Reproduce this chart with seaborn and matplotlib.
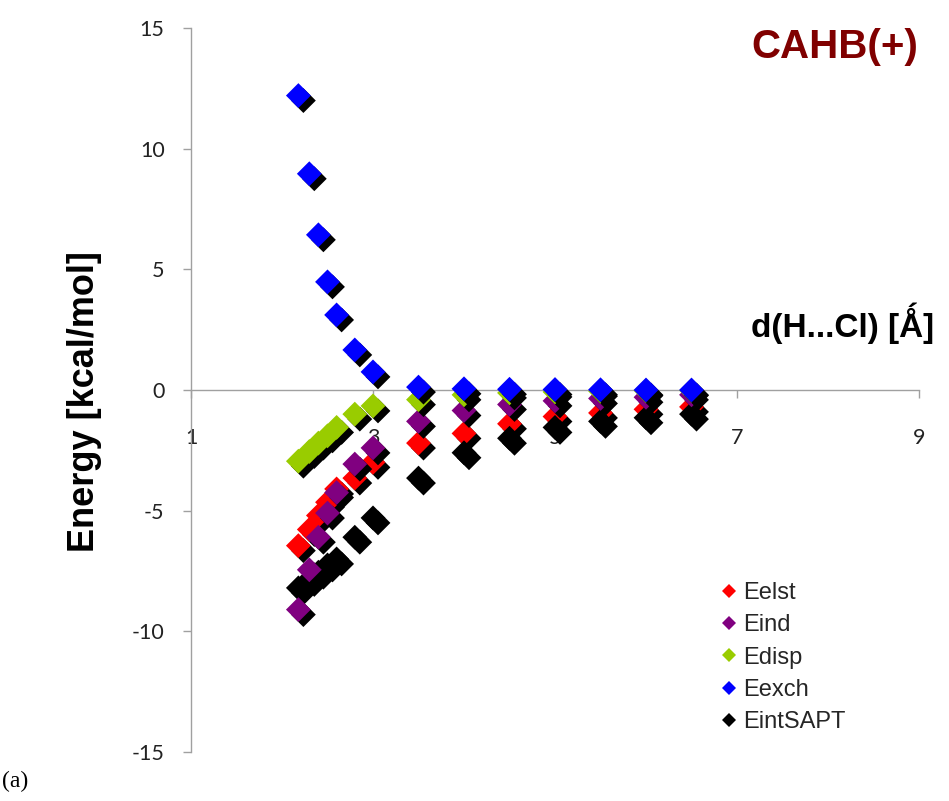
import numpy as np
import pandas as pd
import seaborn as sns
import matplotlib
matplotlib.use("Agg")
import matplotlib.pyplot as plt
from matplotlib import patheffects as pe
from matplotlib.lines import Line2D

# ---- data ----
distance = [2.18, 2.3, 2.4, 2.5, 2.6, 2.8, 3.0, 3.5, 4.0, 4.5, 5.0, 5.5, 6.0, 6.5]
eelst = [-6.45, -5.78, -5.2, -4.65, -4.1, -3.65, -3.0, -2.2, -1.8, -1.4, -1.1, -0.95, -0.8, -0.7]
eind = [-9.1, -7.45, -6.1, -5.1, -4.25, -3.07, -2.4, -1.3, -0.85, -0.6, -0.45, -0.35, -0.3, -0.2]
edisp = [-2.95, -2.55, -2.2, -1.9, -1.55, -1.0, -0.66, -0.4, -0.2, -0.12, -0.08, -0.05, -0.03, -0.02]
eexch = [12.2, 8.96, 6.43, 4.48, 3.11, 1.66, 0.75, 0.12, 0.05, 0.03, 0.02, 0.01, 0.0, 0.0]
eint = [-8.2, -7.85, -7.55, -7.25, -7.0, -6.1, -5.3, -3.65, -2.6, -2.0, -1.55, -1.3, -1.15, -1.0]

series_names = ["Eelst", "Eind", "Edisp", "Eexch", "EintSAPT"]
series_values = [eelst, eind, edisp, eexch, eint]
series_colors = ["#ff0000", "#800080", "#99cc00", "#0000ff", "#000000"]
draw_order = ["Eelst", "EintSAPT", "Eind", "Edisp", "Eexch"]

x_ticks = [1, 3, 5, 7, 9]
y_ticks = [-15, -10, -5, 0, 5, 10, 15]

df = pd.concat(
    [pd.DataFrame({"d": distance, "E": v, "series": n}) for n, v in zip(series_names, series_values)],
    ignore_index=True,
)
color_map = dict(zip(series_names, series_colors))

sns.set_theme(style="white")
plt.rcParams["font.family"] = ["Liberation Sans", "DejaVu Sans"]

W, H = 949, 801
fig = plt.figure(figsize=(W / 100, H / 100), dpi=100)
ax = fig.add_axes([191 / W, 1 - 752 / H, (919 - 191) / W, (752 - 28) / H])

shadow = [pe.SimplePatchShadow(offset=(3.6, -3.6), shadow_rgbFace="black", alpha=1.0), pe.Normal()]
for name in draw_order:
    sub = df[df["series"] == name]
    sns.scatterplot(data=sub, x="d", y="E", ax=ax, color=color_map[name], marker="D",
                    s=160, linewidth=0, legend=False, path_effects=shadow, zorder=3)

ax.set_xlim(1, 9)
ax.set_ylim(-15, 15)
ax.set_xticks(x_ticks)
ax.set_yticks(y_ticks)
ax.set_xticklabels([str(t) for t in x_ticks])
ax.set_yticklabels([str(t) for t in y_ticks])
ax.set_xlabel("")
ax.set_ylabel("")
grey = "#a0a0a0"
for s in ["top", "right"]:
    ax.spines[s].set_visible(False)
ax.spines["bottom"].set_position(("data", 0))
ax.spines["left"].set_position(("data", 1))
for s in ["bottom", "left"]:
    ax.spines[s].set_color(grey)
    ax.spines[s].set_linewidth(1.0)
ax.tick_params(axis="x", direction="out", length=6, width=1, color=grey, pad=21,
               labelcolor="#222222", labelsize=15, bottom=True)
ax.tick_params(axis="y", direction="out", length=6, width=1, color=grey, pad=13,
               labelcolor="#222222", labelsize=15, left=True)
for lab in ax.get_xticklabels() + ax.get_yticklabels():
    lab.set_fontfamily(["Lato", "DejaVu Sans"])
    lab.set_fontsize(15.5)
ax.grid(False)
ax.set_facecolor("white")

# texts
fig.text(835 / W, 1 - 47 / H, "CAHB(+)", ha="center", va="center", fontsize=29,
         fontweight="bold", color="#800000")
fig.text(843 / W, 1 - 323 / H, "d(H...Cl) [Ǻ]", ha="center", va="center", fontsize=24,
         fontweight="bold", color="black")
fig.text(85 / W, 1 - 402 / H, "Energy [kcal/mol]", ha="center", va="center", fontsize=26,
         fontweight="bold", rotation=90, color="black")
fig.text(2 / W, 1 - 781 / H, "(a)", ha="left", va="center", fontsize=17,
         family="Liberation Serif", color="black")

handles = [Line2D([0], [0], marker="D", linestyle="none", markersize=7,
                  markerfacecolor=color_map[n], markeredgewidth=0) for n in series_names]
leg = ax.legend(handles, series_names, loc="upper left", bbox_to_anchor=(708 / W, 1 - 570 / H),
                bbox_transform=fig.transFigure, frameon=False, fontsize=17,
                handlelength=0.75, handletextpad=0.22, labelspacing=0.44, borderpad=0)

fig.savefig("out.png", dpi=100, facecolor="white")
